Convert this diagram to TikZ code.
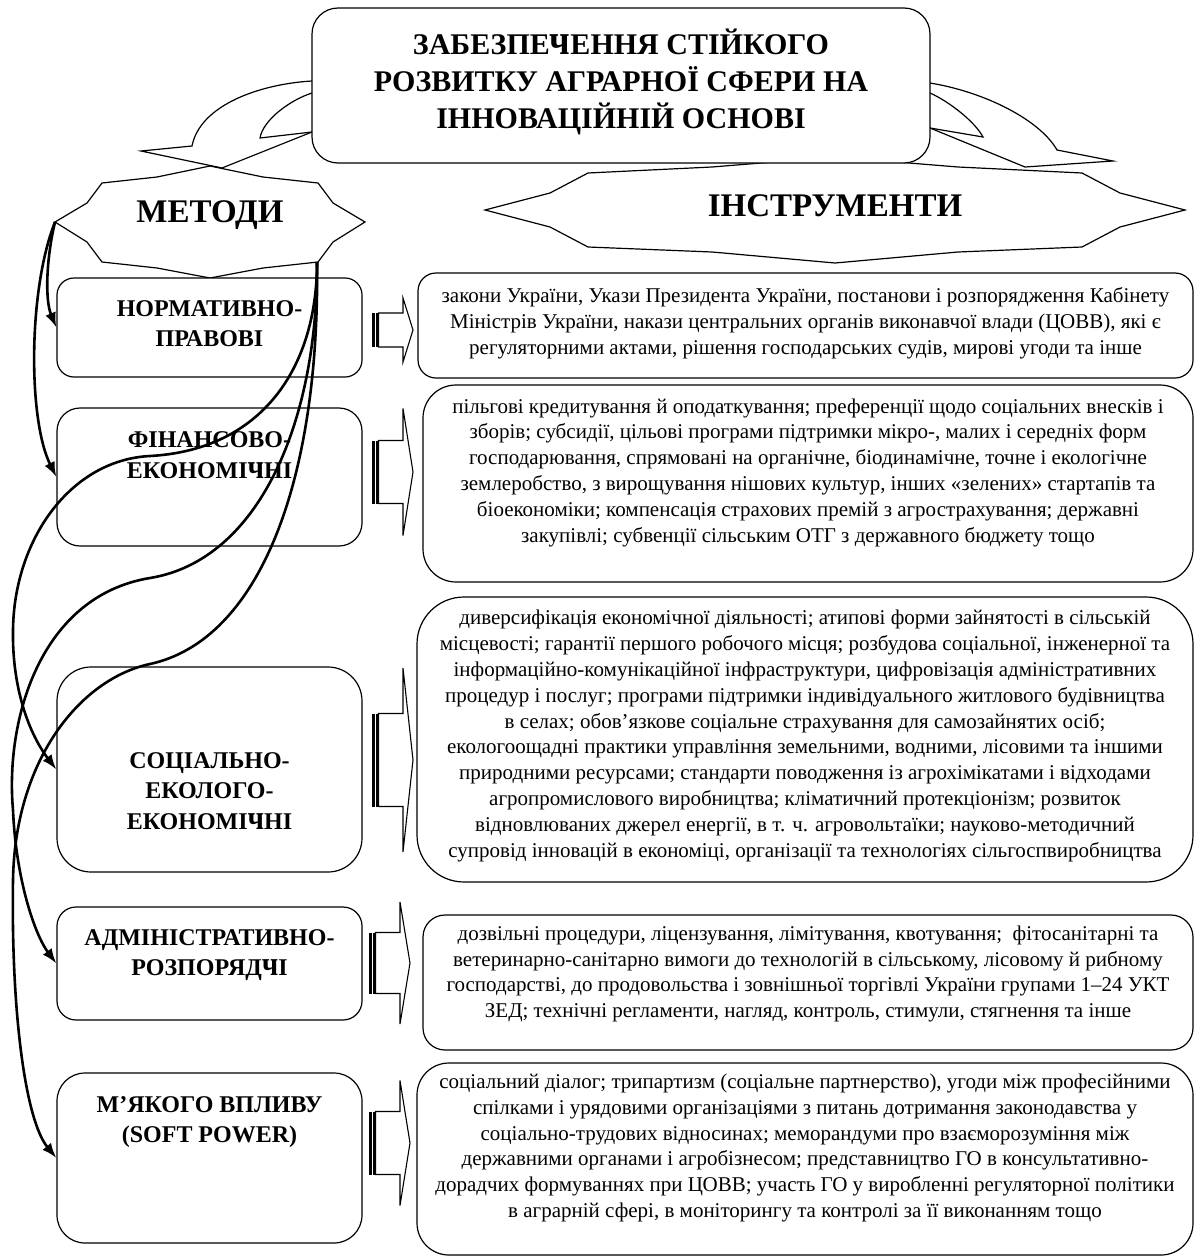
\documentclass[tikz,border=0pt]{standalone}
\usepackage{fontspec}
\usepackage{graphicx}
\setmainfont{Liberation Serif}
\usetikzlibrary{arrows.meta}
\newcommand\CH{\scalebox{1.22}[1.44]{ч}}
\newcommand\striparrow[4]{%
  \fill ({#1},{#2-#3}) rectangle ({#1+3},{#2+#3});
  \fill ({#1+4},{#2-#3}) rectangle ({#1+5.5},{#2+#3});
  \draw[line width=1.1pt,line join=miter] ({#1+6.5},{#2-#3}) -- ({#1+31},{#2-#3}) -- ({#1+31},{#2-#4}) -- ({#1+41},{#2}) -- ({#1+31},{#2+#4}) -- ({#1+31},{#2+#3}) -- ({#1+6.5},{#2+#3}) -- cycle;}
\begin{document}
\begin{tikzpicture}[x=1pt,y=-1pt,
  box/.style={draw,line width=1.2pt,fill=white,inner sep=0pt},
  lbl/.style={font=\fontsize{24}{30.5}\selectfont\bfseries,align=center,inner sep=0pt},
  body/.style={font=\fontsize{21}{25.8}\selectfont,align=center,inner sep=0pt},
  shp/.style={draw,line width=1.2pt,line join=miter},
  conn/.style={line width=2.6pt,-{Latex[length=15pt,width=11pt]}}]
\useasboundingbox (0,0) rectangle (1195,1258);
% METODI shape
\draw[shp] (55,222) -- (87,203) -- (102,183) -- (157,177) -- (210,166) -- (263,177) -- (318,183) -- (333,203) -- (365,222) -- (333,242) -- (318,262) -- (263,268) -- (210,278) -- (157,268) -- (102,262) -- (87,242) -- cycle;
\coordinate (mL) at (55,222);
\coordinate (mBR) at (317,262);
\node[font=\fontsize{33}{36}\selectfont\bfseries,inner sep=0pt] (metodi) at (210,215) {МЕТОДИ};
% INSTRUMENTY shape
\draw[shp] (485,210) -- (550,193) -- (588,173) -- (712,167) -- (835,157) -- (958,167) -- (1082,173) -- (1120,193) -- (1185,210) -- (1120,227) -- (1082,247) -- (958,252) -- (835,263) -- (712,252) -- (588,247) -- (550,227) -- cycle;
\node[font=\fontsize{33}{36}\selectfont\bfseries,inner sep=0pt] (instr) at (835,206) {ІНСТРУМЕНТИ};
% curved arrows from title
\draw[shp] (312,81) .. controls (260,84) and (200,105) .. (192,146) -- (141,151) -- (222,168) -- (312,132);
\draw[shp] (312,93) .. controls (290,100) and (263,120) .. (260,138) -- (312,132);
\draw[shp] (930,83) .. controls (985,92) and (1040,120) .. (1057,150) -- (1113,161) -- (1025,167) -- (930,128);
\draw[shp] (930,93) .. controls (950,102) and (975,122) .. (983,137) -- (930,128);
% title
\node[box,rounded corners=26pt,minimum width=618pt,minimum height=155pt] (title) at (621,85.5) {};
\node[font=\fontsize{30}{37}\selectfont\bfseries,align=center,inner sep=0pt] (titletext) at (621,82) {ЗАБЕЗПЕ\CH ЕННЯ СТІЙКОГО\\РОЗВИТКУ АГРАРНОЇ СФЕРИ НА\\ІННОВАЦІЙНІЙ ОСНОВІ};
% left boxes
\node[box,rounded corners=17pt,minimum width=305pt,minimum height=99pt] (norm) at (209.5,327.5) {};
\node[box,rounded corners=23pt,minimum width=305pt,minimum height=138pt] (fin) at (209.5,477) {};
\node[box,rounded corners=34pt,minimum width=305pt,minimum height=205pt] (soc) at (209.5,769.5) {};
\node[box,rounded corners=19pt,minimum width=305pt,minimum height=113pt] (adm) at (209.5,963.5) {};
\node[box,rounded corners=28pt,minimum width=305pt,minimum height=170pt] (soft) at (209.5,1158) {};
\node[lbl] (normt) at (209.5,323.5) {НОРМАТИВНО-\\ПРАВОВІ};
\node[lbl] (fint) at (209.5,455) {ФІНАНСОВО-\\ЕКОНОМІ\CH НІ};
\node[lbl] (soct) at (209.5,791) {СОЦІАЛЬНО-\\ЕКОЛОГО-\\ЕКОНОМІ\CH НІ};
\node[lbl] (admt) at (209.5,955) {АДМІНІСТРАТИВНО-\\РОЗПОРЯД\CH І};
\node[lbl] (softt) at (209.5,1122) {М’ЯКОГО ВПЛИВУ\\(SOFT POWER)};
% right boxes
\node[box,rounded corners=18pt,minimum width=775pt,minimum height=105pt] (i1) at (805.5,325.5) {};
\node[box,rounded corners=33pt,minimum width=770pt,minimum height=197pt] (i2) at (808,483.5) {};
\node[box,rounded corners=47pt,minimum width=776pt,minimum height=285pt] (i3) at (805,739.5) {};
\node[box,rounded corners=22pt,minimum width=770pt,minimum height=135pt] (i4) at (808,982.5) {};
\node[box,rounded corners=32pt,minimum width=776pt,minimum height=192pt] (i5) at (805,1159) {};
\node[body] (i1t) at (805.5,323.5) {закони України, Укази Президента України, постанови і розпорядження Кабінету\\Міністрів України, накази центральних органів виконавчої влади (ЦОВВ), які є\\регуляторними актами, рішення господарських судів, мирові угоди та інше};
\node[body] (i2t) at (808,472.5) {пільгові кредитування й оподаткування; преференції щодо соціальних внесків і\\зборів; субсидії, цільові програми підтримки мікро-, малих і середніх форм\\господарювання, спрямовані на органічне, біодинамічне, точне і екологічне\\землеробство, з вирощування нішових культур, інших «зелених» стартапів та\\біоекономіки; компенсація страхових премій з агрострахування; державні\\закупівлі; субвенції сільським ОТГ з державного бюджету тощо};
\node[body] (i3t) at (805,736) {диверсифікація економічної діяльності; атипові форми зайнятості в сільській\\місцевості; гарантії першого робочого місця; розбудова соціальної, інженерної та\\інформаційно-комунікаційної інфраструктури, цифровізація адміністративних\\процедур і послуг; програми підтримки індивідуального житлового будівництва\\в селах; обов’язкове соціальне страхування для самозайнятих осіб;\\екологоощадні практики управління земельними, водними, лісовими та іншими\\природними ресурсами; стандарти поводження із агрохімікатами і відходами\\агропромислового виробництва; кліматичний протекціонізм; розвиток\\відновлюваних джерел енергії, в т. ч. агровольтаїки; науково-методичний\\супровід інновацій в економіці, організації та технологіях сільгоспвиробництва};
\node[body] (i4t) at (808,974) {дозвільні процедури, ліцензування, лімітування, квотування;\ \ фітосанітарні та\\ветеринарно-санітарно вимоги до технологій в сільському, лісовому й рибному\\господарстві, до продовольства і зовнішньої торгівлі України групами 1–24 УКТ\\ЗЕД; технічні регламенти, нагляд, контроль, стимули, стягнення та інше};
\node[body] (i5t) at (805,1148) {соціальний діалог; трипартизм (соціальне партнерство), угоди між професійними\\спілками і урядовими організаціями з питань дотримання законодавства у\\соціально-трудових відносинах; меморандуми про взаєморозуміння між\\державними органами і агробізнесом; представництво ГО в консультативно-\\дорадчих формуваннях при ЦОВВ; участь ГО у виробленні регуляторної політики\\в аграрній сфері, в моніторингу та контролі за її виконанням тощо};
% striped block arrows
\striparrow{372}{330}{17}{32}
\striparrow{372}{472}{31.5}{63.5}
\striparrow{372}{760}{46.5}{92}
\striparrow{369}{963}{30.5}{61}
\striparrow{369}{1143}{31.5}{62.5}
% connectors
\draw[conn] (mL) .. controls (46,260) and (45,300) .. (norm.west);
\draw[conn] (mL) .. controls (28,290) and (28,420) .. (fin.west);
\draw[conn] (mBR) .. controls (317,370) and (260,450) .. (150,456) .. controls (70,460) and (14,540) .. (13,630) .. controls (12,690) and (30,735) .. (soc.west);
\draw[conn] (mBR) .. controls (318,420) and (260,560) .. (150,578) .. controls (40,596) and (5,720) .. (13,810) .. controls (16,880) and (35,935) .. (adm.west);
\draw[conn] (mBR) .. controls (320,480) and (260,640) .. (150,664) .. controls (80,679) and (15,760) .. (13,880) .. controls (11,1010) and (25,1120) .. (soft.west);
\end{tikzpicture}
\end{document}
